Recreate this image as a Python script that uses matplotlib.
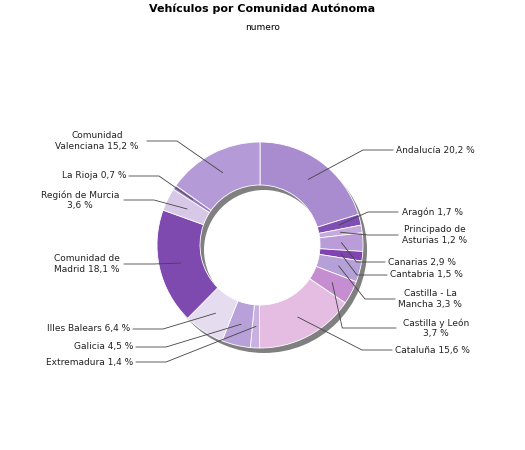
import numpy as np
import matplotlib
matplotlib.use("Agg")
import matplotlib.pyplot as plt

labels = ["Andalucía 20,2 %", "Aragón 1,7 %", "Principado de\nAsturias 1,2 %",
          "Canarias 2,9 %", "Cantabria 1,5 %", "Castilla - La\nMancha 3,3 %",
          "Castilla y León\n3,7 %", "Cataluña 15,6 %", "Extremadura 1,4 %",
          "Galicia 4,5 %", "Illes Balears 6,4 %", "Comunidad de\nMadrid 18,1 %",
          "Región de Murcia\n3,6 %", "La Rioja 0,7 %", "Comunidad\nValenciana 15,2 %"]
values = [20.2, 1.7, 1.2, 2.9, 1.5, 3.3, 3.7, 15.6, 1.4, 4.5, 6.4, 18.1, 3.6, 0.7, 15.2]
colors = ["#a98bcf", "#7f4fb5", "#c5a9dd", "#b99cd8", "#8044b0", "#b5a0d8",
          "#c48ed0", "#e5bde3", "#c8b0e0", "#b8a0d8", "#e5dcf0", "#7f4ab0",
          "#d8c8e8", "#9a7cc4", "#b49ad6"]

# line end (x, y from top), text x, text alignment
label_pos = [(393, 150, 396, "left"), (398, 212, 402, "left"), (398, 235, 402, "left"),
             (385, 262, 388, "left"), (387, 275, 390, "left"), (395, 299, 398, "left"),
             (396, 328, 436, "center"), (392, 350, 395, "left"),
             (136, 362, 133, "right"), (136, 347, 133, "right"), (133, 329, 130, "right"),
             (124, 264, 87, "center"), (124, 200, 80, "center"),
             (129, 176, 126, "right"), (147, 141, 97, "center")]

W, H = 525, 450
fig = plt.figure(figsize=(W / 100, H / 100), dpi=100)
ax = fig.add_axes([0, 0, 1, 1])

cx, cy, R, w = 260, H - 245, 103, 43

# shadow
ax.pie([1], colors=["#808080"], radius=R, center=(cx + 4, cy - 5),
       wedgeprops=dict(width=w, linewidth=0), frame=True)
wedges, _ = ax.pie(values, colors=colors, radius=R, center=(cx, cy),
                   startangle=90, counterclock=False,
                   wedgeprops=dict(width=w, edgecolor="white", linewidth=0.6), frame=True)
ax.set_xlim(0, W)
ax.set_ylim(0, H)
ax.set_aspect("equal")
ax.axis("off")

for wd, lab, (ex, ly, tx, ha) in zip(wedges, labels, label_pos):
    ang = np.deg2rad((wd.theta1 + wd.theta2) / 2)
    px, py = cx + (R - w / 2) * np.cos(ang), cy + (R - w / 2) * np.sin(ang)
    ly = H - ly
    elbow = ex - 15 if ex > cx else ex + 15
    if ex > cx:
        elbow = max(elbow - 55, px + 10) if abs(py - ly) > 40 else max(px + 15, ex - 30)
    else:
        elbow = min(elbow + 55, px - 10) if abs(py - ly) > 40 else min(px - 15, ex + 30)
    ax.plot([px, elbow, ex], [py, ly, ly], color="#444444", lw=0.6)
    ax.text(tx, ly, lab, ha=ha, va="center", fontsize=6.5,
            multialignment="center", color="#222222")

ax.text(W / 2, H - 9, "Vehículos por Comunidad Autónoma", ha="center", va="center",
        fontsize=8, fontweight="bold")
ax.text(W / 2, H - 27, "numero", ha="center", va="center", fontsize=6.5)

fig.savefig("out.png", dpi=100)
